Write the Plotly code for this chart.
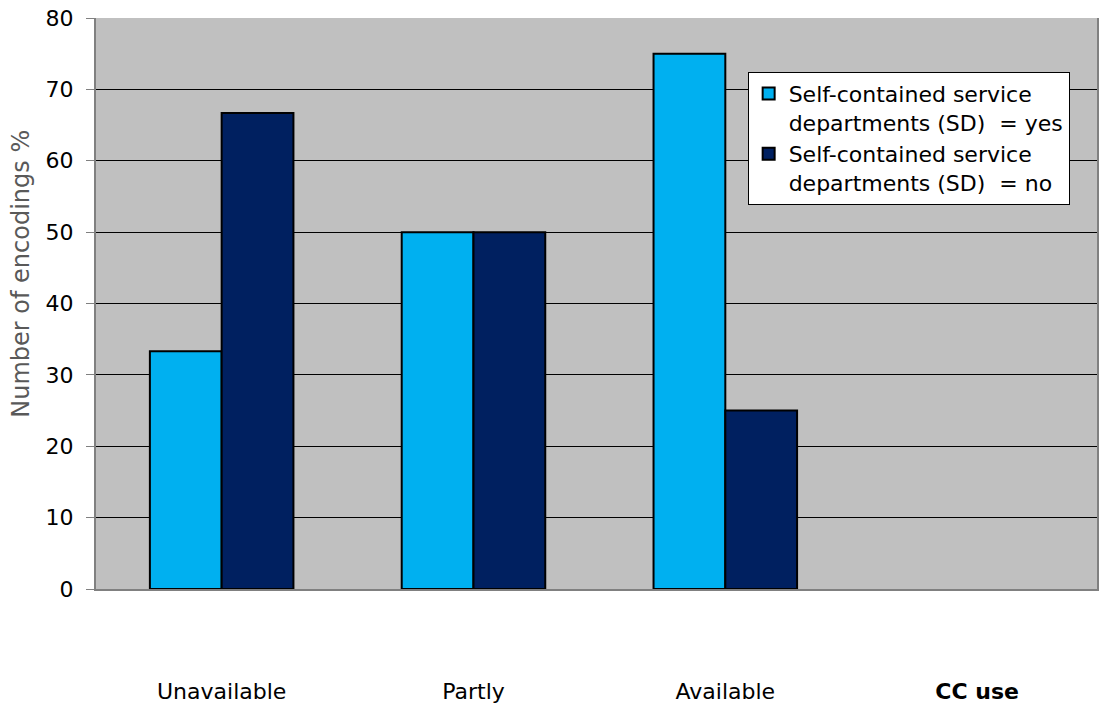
import plotly.graph_objects as go

categories = ["Unavailable", "Partly", "Available", "CC use"]
sd_yes = [33.3, 50, 75, None]
sd_no = [66.7, 50, 25, None]
series_names = ["Self-contained service<br>departments (SD)  = yes",
                "Self-contained service<br>departments (SD)  = no"]
tick_text = ["Unavailable", "Partly", "Available", "<b>CC use</b>"]
y_ticks = [0, 10, 20, 30, 40, 50, 60, 70, 80]
y_title = "Number of encodings %"

FONT = "DejaVu Sans"

fig = go.Figure()
fig.add_trace(go.Bar(x=list(range(len(categories))), y=sd_yes, name=series_names[0],
                     marker=dict(color="#00B0F0", line=dict(color="black", width=2))))
fig.add_trace(go.Bar(x=list(range(len(categories))), y=sd_no, name=series_names[1],
                     marker=dict(color="#002060", line=dict(color="black", width=2))))

fig.add_annotation(text=y_title, xref="paper", yref="paper", x=-0.075, y=0.552,
                   xanchor="center", yanchor="middle", textangle=-90, showarrow=False,
                   font=dict(family=FONT, size=24, color="#595959"))

fig.update_layout(
    width=1099, height=704,
    margin=dict(l=96, r=0, t=18, b=114),
    paper_bgcolor="white", plot_bgcolor="#C0C0C0",
    barmode="group", bargap=0.43, bargroupgap=0,
    font=dict(family=FONT, size=22, color="black"),
    showlegend=True,
    legend=dict(x=0.651, y=0.906, xanchor="left", yanchor="top", valign="top",
                bgcolor="white", bordercolor="black", borderwidth=1,
                font=dict(family=FONT, size=22, color="black"),
                tracegroupgap=0, itemwidth=30),
    xaxis=dict(range=[-0.499, 3.476], tickmode="array",
               tickvals=list(range(len(categories))), ticktext=tick_text,
               showgrid=False, zeroline=False, ticks="",
               showline=True, linecolor="#808080", linewidth=2,
               ticklabelstandoff=82, tickfont=dict(size=22)),
    yaxis=dict(range=[0, 80], tickmode="array", tickvals=y_ticks,
               showgrid=True, gridcolor="black", gridwidth=1,
               zeroline=False, ticks="outside", ticklen=8, tickcolor="#808080",
               showline=True, linecolor="#808080", linewidth=2, mirror=True,
               ticklabelstandoff=8, tickfont=dict(size=22)),
)

fig.write_html("out.html")
